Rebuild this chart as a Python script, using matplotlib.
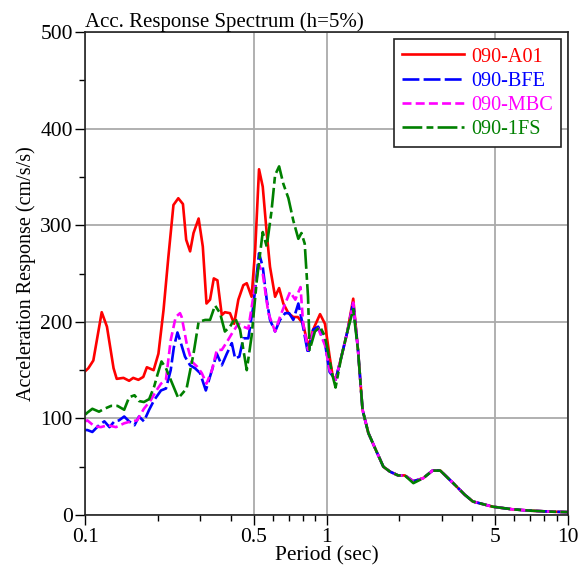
import matplotlib

matplotlib.use("Agg")
import matplotlib.pyplot as plt
from matplotlib.ticker import FixedLocator, NullFormatter, MultipleLocator

plt.rcParams["font.family"] = ["Liberation Serif", "DejaVu Serif"]

# shared tail (all records nearly identical beyond ~1 s)
tail_t = [1.06, 1.09, 1.15, 1.22, 1.29, 1.35, 1.41, 1.49, 1.59, 1.72, 1.83,
          1.98, 2.11, 2.29, 2.51, 2.75, 2.96, 3.35, 3.74, 4.04, 4.89, 5.9,
          7.0, 8.5, 10.0]
tail_v = [144, 140, 163, 190, 220, 171, 109, 85, 69, 50, 45,
          41, 41, 35, 38, 46, 46, 33, 21, 14, 8.6, 5.9,
          4.5, 3.5, 3.0]

# 090-A01
a01_t = [0.100, 0.103, 0.108, 0.117, 0.123, 0.131, 0.135, 0.144, 0.152, 0.158,
         0.166, 0.174, 0.180, 0.192, 0.201, 0.211, 0.221, 0.232, 0.243, 0.254,
         0.262, 0.272, 0.281, 0.295, 0.307, 0.318, 0.329, 0.341, 0.353, 0.368,
         0.379, 0.398, 0.414, 0.431, 0.452, 0.467, 0.489, 0.506, 0.525, 0.544,
         0.565, 0.583, 0.612, 0.636, 0.662, 0.695, 0.728, 0.760, 0.800, 0.840,
         0.880, 0.940, 0.985, 1.03]
a01_v = [149, 152, 160, 210, 195, 152, 141, 142, 139, 142,
         140, 143, 153, 150, 167, 212, 267, 321, 328, 322,
         285, 273, 292, 307, 278, 219, 223, 245, 243, 207,
         210, 209, 198, 223, 238, 240, 226, 274, 358, 340,
         292, 257, 226, 235, 219, 209, 205, 205, 198, 174,
         192, 208, 198, 164]

# 090-BFE
bfe_t = [0.100, 0.102, 0.107, 0.114, 0.120, 0.126, 0.132, 0.138, 0.145, 0.152,
         0.160, 0.167, 0.175, 0.184, 0.193, 0.206, 0.216, 0.226, 0.233, 0.241,
         0.247, 0.259, 0.272, 0.285, 0.299, 0.316, 0.335, 0.351, 0.368, 0.386,
         0.405, 0.418, 0.435, 0.452, 0.474, 0.497, 0.525, 0.544, 0.565, 0.583,
         0.612, 0.641, 0.674, 0.700, 0.728, 0.764, 0.795, 0.838, 0.880, 0.923,
         0.985, 1.03]
bfe_v = [88, 88, 86, 93, 97, 91, 97, 98, 102, 97,
         93, 102, 97, 109, 119, 129, 131, 150, 174, 189,
         181, 164, 155, 152, 147, 129, 150, 167, 155, 167,
         178, 162, 164, 183, 183, 216, 271, 257, 223, 202,
         190, 202, 209, 209, 202, 219, 198, 167, 192, 195,
         178, 148]

# 090-MBC
mbc_t = [0.100, 0.102, 0.109, 0.116, 0.124, 0.134, 0.145, 0.155, 0.164, 0.175,
         0.187, 0.196, 0.206, 0.216, 0.226, 0.237, 0.247, 0.251, 0.263, 0.276,
         0.290, 0.304, 0.318, 0.335, 0.351, 0.368, 0.386, 0.410, 0.431, 0.452,
         0.474, 0.497, 0.525, 0.544, 0.574, 0.612, 0.641, 0.674, 0.706, 0.742,
         0.780, 0.800, 0.838, 0.880, 0.923, 0.985, 1.03]
mbc_v = [97, 98, 92, 91, 93, 91, 95, 97, 98, 110,
         119, 128, 136, 140, 181, 205, 209, 205, 178, 159,
         154, 147, 136, 150, 171, 171, 179, 190, 198, 195,
         193, 226, 259, 250, 209, 190, 205, 219, 231, 223,
         236, 198, 171, 190, 193, 176, 150]

# 090-1FS
fs_t = [0.100, 0.102, 0.107, 0.114, 0.120, 0.128, 0.136, 0.145, 0.152, 0.160,
        0.167, 0.175, 0.184, 0.193, 0.199, 0.207, 0.216, 0.226, 0.243, 0.263,
        0.281, 0.295, 0.314, 0.329, 0.345, 0.362, 0.379, 0.398, 0.418, 0.438,
        0.467, 0.489, 0.514, 0.544, 0.565, 0.591, 0.612, 0.636, 0.662, 0.695,
        0.728, 0.764, 0.787, 0.812, 0.838, 0.851, 0.895, 0.940, 0.985, 1.03]
fs_v = [104, 106, 110, 107, 110, 113, 113, 109, 122, 124,
        118, 117, 120, 133, 145, 159, 152, 140, 121, 131,
        167, 200, 202, 202, 217, 209, 190, 195, 204, 192,
        150, 185, 243, 293, 278, 314, 352, 361, 343, 328,
        305, 286, 292, 281, 226, 171, 190, 195, 185, 160]

fs_tail_v = list(tail_v)
fs_tail_v[1] = 132
fs_tail_v[4] = 213
fs_tail_v[13] = 33

series = [
    ("090-A01", a01_t + tail_t, a01_v + tail_v[:4] + [224] + tail_v[5:],
     "#ff0000", "-"),
    ("090-BFE", bfe_t + tail_t, bfe_v + tail_v, "#0000ff", (0, (6.4, 1.6))),
    ("090-MBC", mbc_t + tail_t, mbc_v + tail_v, "#ff00ff", (0, (3.4, 1.6))),
    ("090-1FS", fs_t + tail_t, fs_v + fs_tail_v, "#008000",
     (0, (7.5, 1.6, 2.6, 1.6))),
]

fig = plt.figure(figsize=(5.8, 5.79), dpi=100)
ax = fig.add_axes([0.147, 0.1105, 0.832, 0.834])

for name, t, v, c, ls in series:
    ax.plot(t, v, color=c, ls=ls, lw=1.9, label=name)

ax.set_xscale("log")
ax.set_xlim(0.1, 10)
ax.set_ylim(0, 500)
ax.xaxis.set_major_locator(FixedLocator([0.1, 0.5, 1, 5, 10]))
ax.xaxis.set_major_formatter(plt.FuncFormatter(lambda x, p: f"{x:g}"))
ax.xaxis.set_minor_locator(FixedLocator(
    [0.2, 0.3, 0.4, 0.6, 0.7, 0.8, 0.9, 2, 3, 4, 6, 7, 8, 9]))
ax.xaxis.set_minor_formatter(NullFormatter())
ax.yaxis.set_major_locator(MultipleLocator(100))
ax.yaxis.set_minor_locator(MultipleLocator(50))
ax.tick_params(which="major", direction="out", length=7, width=1,
               labelsize=15.5, pad=2)
ax.tick_params(which="minor", direction="out", length=4.5, width=1)
ax.grid(True, which="major", color="#aaaaaa", lw=1.3)
for s in ax.spines.values():
    s.set_linewidth(1.2)
    s.set_color("#222222")

ax.set_xlabel("Period (sec)", fontsize=15.5, labelpad=0)
ax.set_ylabel("Acceleration Response (cm/s/s)", fontsize=14.5, labelpad=3)
ax.set_title("Acc. Response Spectrum (h=5%)", loc="left", fontsize=15,
             pad=1)

leg = ax.legend(loc="upper right", fontsize=14.6, handlelength=3.05,
                handletextpad=0.35, labelspacing=0.25, borderpad=0.4,
                fancybox=False, framealpha=1, edgecolor="#222222",
                borderaxespad=0.35)
leg.get_frame().set_linewidth(1.2)
for txt, (_, _, _, c, _) in zip(leg.get_texts(), series):
    txt.set_color(c)

fig.savefig("out.png", dpi=100)
